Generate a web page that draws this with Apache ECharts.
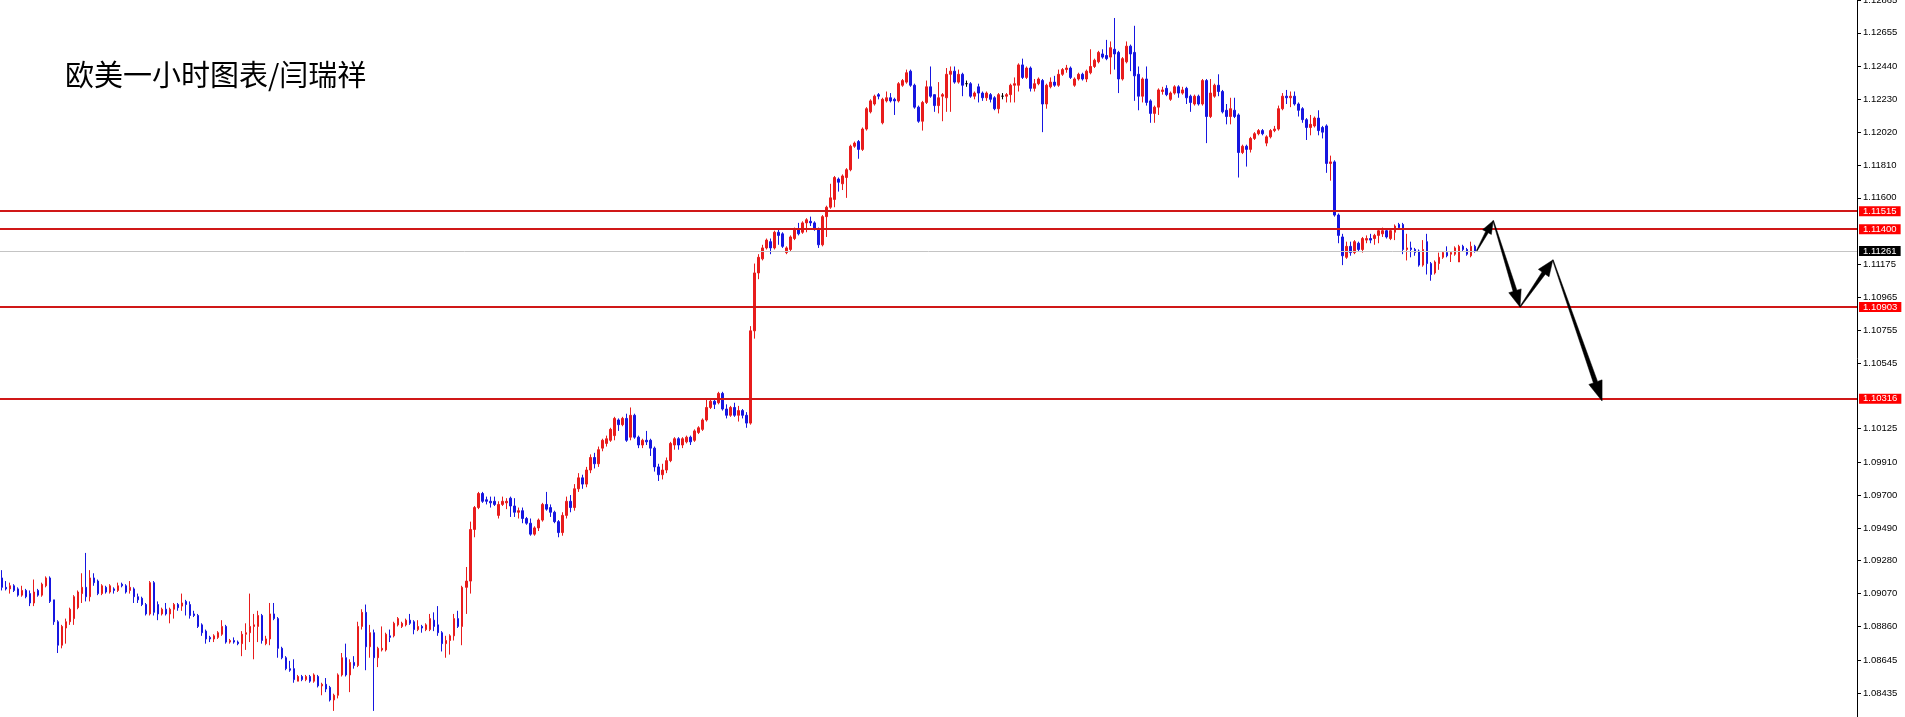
<!DOCTYPE html>
<html><head><meta charset="utf-8">
<script src="https://cdn.jsdelivr.net/npm/echarts@6/dist/echarts.min.js"></script>
<style>html,body{margin:0;padding:0;background:#fff;overflow:hidden}#c{width:1905px;height:717px}</style>
</head><body><div id="c"></div>
<script>
const titleText = '欧美一小时图表/闫瑞祥';
// [open, close, low, high] per hourly bar
const ohlc = [
[1.0917,1.0911,1.0909,1.0922],[1.0911,1.0910,1.0909,1.0915],[1.0910,1.0912,1.0907,1.0914],[1.0912,1.0909,1.0908,1.0913],
[1.0910,1.0906,1.0905,1.0911],[1.0906,1.0909,1.0905,1.0912],[1.0909,1.0905,1.0904,1.0910],[1.0907,1.0901,1.0899,1.0909],
[1.0901,1.0908,1.0899,1.0916],[1.0909,1.0906,1.0905,1.0910],[1.0906,1.0913,1.0905,1.0914],[1.0912,1.0917,1.0911,1.0918],
[1.0917,1.0902,1.0901,1.0918],[1.0903,1.0889,1.0887,1.0903],[1.0889,1.0874,1.0869,1.0890],[1.0874,1.0886,1.0872,1.0887],
[1.0885,1.0889,1.0875,1.0891],[1.0889,1.0897,1.0887,1.0898],[1.0891,1.0905,1.0887,1.0906],[1.0898,1.0908,1.0897,1.0909],
[1.0907,1.0911,1.0901,1.0920],[1.0911,1.0905,1.0902,1.0933],[1.0905,1.0917,1.0902,1.0922],[1.0917,1.0914,1.0912,1.0920],
[1.0915,1.0907,1.0906,1.0916],[1.0907,1.0912,1.0906,1.0913],[1.0911,1.0908,1.0907,1.0912],[1.0908,1.0912,1.0907,1.0913],
[1.0910,1.0909,1.0907,1.0911],[1.0909,1.0912,1.0908,1.0914],[1.0913,1.0912,1.0911,1.0914],[1.0912,1.0908,1.0907,1.0913],
[1.0909,1.0911,1.0907,1.0915],[1.0910,1.0905,1.0901,1.0911],[1.0905,1.0903,1.0901,1.0907],[1.0904,1.0900,1.0899,1.0905],
[1.0900,1.0894,1.0893,1.0901],[1.0894,1.0914,1.0893,1.0915],[1.0914,1.0895,1.0893,1.0915],[1.0900,1.0894,1.0890,1.0902],
[1.0894,1.0897,1.0893,1.0898],[1.0897,1.0894,1.0893,1.0901],[1.0894,1.0897,1.0888,1.0898],[1.0897,1.0900,1.0891,1.0901],
[1.0900,1.0898,1.0896,1.0901],[1.0899,1.0901,1.0896,1.0907],[1.0902,1.0900,1.0893,1.0903],
[1.0900,1.0893,1.0891,1.0902],[1.0894,1.0893,1.0892,1.0896],[1.0893,1.0886,1.0885,1.0894],[1.0887,1.0882,1.0880,1.0888],
[1.0883,1.0878,1.0875,1.0884],[1.0879,1.0878,1.0876,1.0880],[1.0878,1.0880,1.0876,1.0881],[1.0879,1.0882,1.0878,1.0883],
[1.0881,1.0886,1.0880,1.0890],[1.0886,1.0876,1.0875,1.0887],[1.0876,1.0877,1.0875,1.0878],[1.0877,1.0876,1.0875,1.0879],
[1.0876,1.0875,1.0874,1.0877],[1.0875,1.0881,1.0867,1.0883],[1.0881,1.0882,1.0871,1.0888],[1.0882,1.0886,1.0876,1.0907],
[1.0886,1.0887,1.0865,1.0894],[1.0886,1.0893,1.0876,1.0896],[1.0893,1.0877,1.0875,1.0894],[1.0875,1.0878,1.0874,1.0880],
[1.0878,1.0894,1.0874,1.0901],[1.0894,1.0891,1.0890,1.0901],[1.0891,1.0872,1.0866,1.0892],[1.0872,1.0866,1.0865,1.0873],
[1.0866,1.0859,1.0858,1.0867],[1.0859,1.0858,1.0857,1.0864],[1.0859,1.0852,1.0850,1.0865],[1.0851,1.0854,1.0851,1.0855],
[1.0854,1.0852,1.0851,1.0855],[1.0852,1.0854,1.0851,1.0855],[1.0854,1.0851,1.0850,1.0855],[1.0851,1.0855,1.0850,1.0856],
[1.0854,1.0848,1.0847,1.0855],[1.0848,1.0849,1.0842,1.0850],[1.0849,1.0846,1.0844,1.0853],[1.0847,1.0839,1.0838,1.0848],
[1.0839,1.0842,1.0832,1.0843],[1.0842,1.0855,1.0840,1.0856],[1.0855,1.0866,1.0854,1.0869],[1.0866,1.0855,1.0854,1.0875],
[1.0855,1.0863,1.0844,1.0865],[1.0863,1.0861,1.0859,1.0867],[1.0861,1.0886,1.0860,1.0889],[1.0886,1.0895,1.0884,1.0897],
[1.0895,1.0873,1.0858,1.0900],[1.0873,1.0882,1.0866,1.0887],[1.0882,1.0866,1.0832,1.0884],
[1.0866,1.0872,1.0860,1.0873],[1.0871,1.0872,1.0870,1.0886],[1.0871,1.0881,1.0870,1.0882],[1.0880,1.0879,1.0876,1.0884],
[1.0880,1.0888,1.0879,1.0889],[1.0887,1.0891,1.0886,1.0892],[1.0886,1.0888,1.0885,1.0889],[1.0887,1.0890,1.0886,1.0891],
[1.0890,1.0888,1.0887,1.0894],[1.0889,1.0884,1.0881,1.0890],[1.0884,1.0886,1.0883,1.0890],[1.0886,1.0885,1.0882,1.0887],
[1.0884,1.0887,1.0883,1.0888],[1.0884,1.0891,1.0883,1.0894],[1.0890,1.0886,1.0883,1.0895],[1.0887,1.0882,1.0880,1.0899],
[1.0882,1.0875,1.0870,1.0883],[1.0875,1.0877,1.0866,1.0880],[1.0877,1.0880,1.0868,1.0881],[1.0880,1.0891,1.0877,1.0894],
[1.0891,1.0886,1.0885,1.0896],[1.0886,1.0911,1.0874,1.0912],[1.0911,1.0915,1.0894,1.0924],[1.0915,1.0948,1.0907,1.0953],
[1.0948,1.0962,1.0943,1.0963],[1.0962,1.0971,1.0961,1.0972],[1.0971,1.0966,1.0965,1.0972],[1.0967,1.0966,1.0964,1.0969],
[1.0966,1.0965,1.0962,1.0969],[1.0966,1.0964,1.0963,1.0969],[1.0957,1.0964,1.0955,1.0966],[1.0964,1.0966,1.0963,1.0969],
[1.0965,1.0966,1.0961,1.0968],[1.0968,1.0963,1.0956,1.0969],[1.0963,1.0959,1.0956,1.0968],[1.0959,1.0960,1.0955,1.0962],
[1.0960,1.0955,1.0952,1.0962],[1.0955,1.0952,1.0951,1.0956],[1.0952,1.0945,1.0944,1.0955],[1.0945,1.0949,1.0944,1.0950],
[1.0949,1.0954,1.0947,1.0955],[1.0954,1.0964,1.0953,1.0965],[1.0964,1.0961,1.0960,1.0972],[1.0962,1.0959,1.0956,1.0964],
[1.0959,1.0953,1.0952,1.0960],[1.0953,1.0946,1.0943,1.0954],
[1.0946,1.0957,1.0944,1.0959],[1.0957,1.0966,1.0955,1.0969],[1.0966,1.0962,1.0959,1.0970],[1.0962,1.0974,1.0960,1.0977],
[1.0974,1.0981,1.0972,1.0984],[1.0981,1.0977,1.0974,1.0983],[1.0977,1.0986,1.0975,1.0988],[1.0986,1.0994,1.0984,1.0996],
[1.0994,1.0990,1.0987,1.0997],[1.0990,1.0999,1.0988,1.1001],
[1.1000,1.1005,1.0998,1.1006],[1.1003,1.1006,1.1001,1.1008],[1.1005,1.1012,1.1004,1.1013],[1.1008,1.1019,1.1005,1.1020],
[1.1018,1.1015,1.1011,1.1019],[1.1015,1.1019,1.1014,1.1020],[1.1019,1.1005,1.1004,1.1022],[1.1007,1.1021,1.1005,1.1026],
[1.1021,1.1007,1.1006,1.1022],[1.1007,1.1002,1.1000,1.1008],[1.1002,1.1005,1.1000,1.1006],[1.1005,1.1004,1.1002,1.1011],
[1.1005,1.1000,1.0995,1.1006],[1.1000,1.0988,1.0985,1.1001],[1.0988,1.0983,1.0979,1.0990],[1.0983,1.0986,1.0980,1.0990],
[1.0986,1.0992,1.0984,1.0994],[1.0992,1.1003,1.0991,1.1004],[1.1002,1.1006,1.0999,1.1007],[1.1006,1.1002,1.0999,1.1007],
[1.1002,1.1006,1.1000,1.1007],[1.1004,1.1007,1.1003,1.1008],[1.1007,1.1004,1.1002,1.1008],[1.1005,1.1011,1.1004,1.1012],
[1.1010,1.1013,1.1009,1.1014],[1.1012,1.1018,1.1011,1.1019],[1.1018,1.1026,1.1017,1.1031],[1.1026,1.1030,1.1025,1.1031],
[1.1030,1.1028,1.1025,1.1031],[1.1029,1.1035,1.1028,1.1036],[1.1035,1.1025,1.1024,1.1036],[1.1025,1.1021,1.1019,1.1028],
[1.1021,1.1026,1.1020,1.1027],[1.1026,1.1021,1.1020,1.1029],[1.1021,1.1024,1.1017,1.1027],[1.1024,1.1021,1.1019,1.1025],
[1.1021,1.1016,1.1013,1.1023],[1.1016,1.1075,1.1015,1.1078],[1.1075,1.1112,1.1070,1.1118],[1.1112,1.1122,1.1108,1.1124],
[1.1121,1.1128,1.1120,1.1130],[1.1128,1.1133,1.1127,1.1134],[1.1132,1.1128,1.1124,1.1134],[1.1128,1.1138,1.1127,1.1139],
[1.1138,1.1136,1.1130,1.1140],[1.1137,1.1129,1.1128,1.1138],[1.1125,1.1128,1.1124,1.1129],[1.1127,1.1135,1.1126,1.1136],
[1.1134,1.1140,1.1133,1.1141],[1.1140,1.1137,1.1136,1.1144],[1.1138,1.1144,1.1137,1.1145],[1.1144,1.1146,1.1138,1.1147],
[1.1145,1.1144,1.1142,1.1148],[1.1144,1.1140,1.1139,1.1145],[1.1140,1.1130,1.1128,1.1141],[1.1130,1.1148,1.1129,1.1149],
[1.1148,1.1154,1.1135,1.1155],[1.1154,1.1160,1.1153,1.1169],[1.1159,1.1173,1.1154,1.1174],[1.1172,1.1170,1.1164,1.1173],
[1.1169,1.1174,1.1165,1.1175],[1.1173,1.1178,1.1160,1.1179],[1.1178,1.1193,1.1177,1.1194],[1.1193,1.1195,1.1192,1.1196],
[1.1196,1.1191,1.1185,1.1197],[1.1191,1.1204,1.1190,1.1205],[1.1204,1.1217,1.1203,1.1218],[1.1215,1.1222,1.1214,1.1223],
[1.1220,1.1225,1.1219,1.1226],[1.1226,1.1225,1.1223,1.1227],[1.1208,1.1223,1.1207,1.1224],[1.1222,1.1224,1.1221,1.1228],
[1.1224,1.1222,1.1221,1.1227],[1.1223,1.1222,1.1213,1.1224],[1.1222,1.1233,1.1221,1.1234],[1.1232,1.1235,1.1231,1.1236],
[1.1234,1.1240,1.1233,1.1242],[1.1241,1.1232,1.1231,1.1242],[1.1232,1.1218,1.1217,1.1233],[1.1218,1.1209,1.1208,1.1219],
[1.1209,1.1221,1.1203,1.1222],[1.1221,1.1231,1.1220,1.1235],[1.1231,1.1225,1.1224,1.1244],[1.1226,1.1219,1.1215,1.1226],
[1.1219,1.1224,1.1214,1.1234],[1.1225,1.1226,1.1209,1.1227],[1.1224,1.1239,1.1215,1.1243],[1.1239,1.1241,1.1215,1.1244],
[1.1241,1.1234,1.1233,1.1244],[1.1234,1.1239,1.1233,1.1242],[1.1239,1.1232,1.1225,1.1240],[1.1233,1.1233,1.1231,1.1235],
[1.1233,1.1225,1.1224,1.1234],[1.1225,1.1227,1.1223,1.1228],[1.1231,1.1227,1.1221,1.1233],[1.1227,1.1224,1.1222,1.1228],
[1.1224,1.1227,1.1222,1.1228],[1.1226,1.1223,1.1221,1.1227],[1.1224,1.1217,1.1216,1.1225],[1.1217,1.1226,1.1214,1.1227],
[1.1225,1.1225,1.1223,1.1227],[1.1225,1.1226,1.1221,1.1227],[1.1226,1.1232,1.1221,1.1233],[1.1232,1.1233,1.1221,1.1237],
[1.1232,1.1245,1.1228,1.1246],[1.1245,1.1237,1.1236,1.1249],[1.1237,1.1243,1.1236,1.1244],[1.1243,1.1230,1.1228,1.1244],
[1.1230,1.1233,1.1228,1.1236],[1.1233,1.1236,1.1232,1.1237],[1.1235,1.1220,1.1202,1.1236],[1.1220,1.1232,1.1217,1.1233],
[1.1231,1.1234,1.1230,1.1237],[1.1234,1.1232,1.1231,1.1238],[1.1232,1.1239,1.1231,1.1242],[1.1239,1.1242,1.1238,1.1243],
[1.1242,1.1243,1.1240,1.1245],[1.1243,1.1237,1.1236,1.1244],[1.1232,1.1236,1.1231,1.1237],[1.1236,1.1239,1.1235,1.1240],
[1.1239,1.1236,1.1235,1.1240],[1.1236,1.1241,1.1234,1.1242],[1.1240,1.1244,1.1239,1.1255],[1.1244,1.1248,1.1243,1.1249],
[1.1247,1.1253,1.1246,1.1254],[1.1252,1.1250,1.1249,1.1255],[1.1251,1.1249,1.1248,1.1261],[1.1250,1.1256,1.1239,1.1260],
[1.1255,1.1252,1.1242,1.1275],[1.1253,1.1236,1.1227,1.1254],[1.1236,1.1249,1.1235,1.1250],[1.1247,1.1257,1.1246,1.1260],
[1.1257,1.1252,1.1241,1.1258],[1.1253,1.1238,1.1222,1.1270],[1.1239,1.1225,1.1216,1.1244],[1.1225,1.1236,1.1221,1.1237],
[1.1236,1.1221,1.1219,1.1244],[1.1222,1.1214,1.1208,1.1223],[1.1214,1.1218,1.1208,1.1219],[1.1218,1.1229,1.1213,1.1230],
[1.1228,1.1229,1.1226,1.1231],[1.1230,1.1226,1.1225,1.1232],[1.1223,1.1227,1.1222,1.1228],[1.1227,1.1231,1.1226,1.1232],
[1.1231,1.1227,1.1224,1.1232],[1.1227,1.1229,1.1226,1.1231],[1.1230,1.1224,1.1220,1.1231],[1.1225,1.1221,1.1215,1.1226],
[1.1220,1.1225,1.1219,1.1226],[1.1225,1.1220,1.1219,1.1226],[1.1220,1.1235,1.1219,1.1236],[1.1235,1.1212,1.1195,1.1236],
[1.1212,1.1227,1.1211,1.1236],[1.1225,1.1232,1.1224,1.1233],[1.1232,1.1228,1.1225,1.1239],[1.1228,1.1215,1.1214,1.1229],
[1.1216,1.1212,1.1207,1.1220],[1.1212,1.1217,1.1207,1.1224],[1.1216,1.1212,1.1211,1.1224],[1.1213,1.1189,1.1173,1.1214],
[1.1189,1.1193,1.1188,1.1194],[1.1193,1.1191,1.1180,1.1194],[1.1191,1.1198,1.1189,1.1199],[1.1198,1.1201,1.1197,1.1202],
[1.1201,1.1203,1.1200,1.1204],[1.1203,1.1201,1.1200,1.1204],[1.1195,1.1199,1.1193,1.1200],[1.1199,1.1203,1.1198,1.1204],
[1.1203,1.1204,1.1202,1.1206],[1.1204,1.1217,1.1203,1.1219],[1.1217,1.1225,1.1216,1.1227],[1.1225,1.1224,1.1220,1.1229],
[1.1224,1.1225,1.1218,1.1228],[1.1225,1.1220,1.1219,1.1228],[1.1220,1.1216,1.1212,1.1221],[1.1217,1.1210,1.1208,1.1218],
[1.1210,1.1205,1.1197,1.1211],[1.1205,1.1207,1.1200,1.1213],[1.1206,1.1211,1.1205,1.1212],[1.1211,1.1203,1.1200,1.1216],
[1.1205,1.1202,1.1198,1.1206],[1.1206,1.1182,1.1176,1.1207],[1.1182,1.1183,1.1171,1.1187],[1.1183,1.1149,1.1148,1.1184],
[1.1149,1.1136,1.1131,1.1150],[1.1135,1.1123,1.1117,1.1137],[1.1122,1.1129,1.1121,1.1132],[1.1129,1.1125,1.1123,1.1132],
[1.1125,1.1132,1.1124,1.1133],[1.1131,1.1127,1.1126,1.1132],[1.1127,1.1134,1.1125,1.1135],[1.1133,1.1134,1.1131,1.1136],
[1.1134,1.1133,1.1131,1.1137],[1.1134,1.1136,1.1130,1.1137],[1.1136,1.1139,1.1131,1.1140],[1.1137,1.1139,1.1135,1.1141],
[1.1139,1.1135,1.1134,1.1140],[1.1134,1.1139,1.1133,1.1140],[1.1138,1.1142,1.1133,1.1143],[1.1143,1.1141,1.1140,1.1144],
[1.1143,1.1127,1.1124,1.1144],[1.1127,1.1128,1.1120,1.1137],[1.1128,1.1127,1.1122,1.1132],[1.1127,1.1125,1.1123,1.1128],
[1.1126,1.1117,1.1116,1.1127],[1.1117,1.1127,1.1116,1.1133],[1.1132,1.1118,1.1111,1.1137],[1.1118,1.1111,1.1107,1.1119],
[1.1112,1.1119,1.1111,1.1120],[1.1118,1.1122,1.1114,1.1125],[1.1122,1.1125,1.1121,1.1126],[1.1125,1.1123,1.1122,1.1129],
[1.1124,1.1125,1.1119,1.1126],[1.1124,1.1128,1.1123,1.1129],[1.1119,1.1129,1.1119,1.1130],[1.1129,1.1127,1.1126,1.1130],
[1.1127,1.1124,1.1123,1.1128],[1.1123,1.1129,1.1122,1.1132],[1.1129,1.1126,1.1125,1.1130]
];
const slotCount = 464;               // bar slots across the plot (incl. empty space on the right)
const priceMax = 1.12865;
const priceMin = 1.08281;
const tickLabels = [1.12865,1.12655,1.12440,1.12230,1.12020,1.11810,1.11600,1.11175,1.10965,1.10755,1.10545,
                    1.10125,1.09910,1.09700,1.09490,1.09280,1.09070,1.08860,1.08645,1.08435];
const levels = [1.11515, 1.11400, 1.10903, 1.10316];
const lastPrice = 1.11261;
// projected path: [bar index, price]
const arrowPath = [[368.5,1.11262],[372.6,1.11454],[379.3,1.10902],[387.5,1.11203],[399.8,1.10301]];

const categories = [];
for (let i = 0; i < slotCount; i++) categories.push(String(i));

const chart = echarts.init(document.getElementById('c'), null, {renderer:'canvas'});
const UP = '#e81c1c', DOWN = '#1616e0', LINE_RED = '#d01818';

chart.setOption({
  animation: false,
  backgroundColor: '#ffffff',
  title: {
    text: titleText, left: 60, top: 55,
    textStyle: {fontSize: 29, fontWeight: 'normal', color: '#000', fontFamily: 'Noto Sans CJK SC'}
  },
  grid: {left: 0, right: 48, top: 0, bottom: 0, containLabel: false, outerBoundsMode: 'none'},
  xAxis: {
    type: 'category', data: categories, boundaryGap: true,
    axisLine: {show: false}, axisTick: {show: false}, axisLabel: {show: false}, splitLine: {show: false}
  },
  yAxis: {
    type: 'value', position: 'right', min: priceMin, max: priceMax,
    splitLine: {show: false},
    axisLine: {show: true, lineStyle: {color: '#000', width: 1}},
    axisTick: {show: true, length: 4, customValues: tickLabels, lineStyle: {color: '#000'}},
    axisLabel: {customValues: tickLabels, formatter: v => v.toFixed(5), color: '#000',
                fontSize: 9.5, fontFamily: 'Liberation Sans', margin: 6,
                verticalAlignMaxLabel: 'middle', verticalAlignMinLabel: 'middle'}
  },
  series: [{
    type: 'candlestick', data: ohlc, barWidth: 2, clip: false,
    itemStyle: {color: UP, color0: DOWN, borderColor: UP, borderColor0: DOWN, borderColorDoji: '#000', borderWidth: 1},
    markLine: {
      silent: true, animation: false, symbol: ['none','none'], precision: 5,
      label: {show: true, position: 'end', distance: 2, formatter: p => Number(p.value).toFixed(5),
              color: '#fff', fontSize: 9.5, fontFamily: 'Liberation Sans', padding: [1,4,0,4], lineHeight: 9},
      data: levels.map(v => ({yAxis: v, lineStyle: {color: LINE_RED, width: 2, type: 'solid'},
                               label: {backgroundColor: '#ff0000'}}))
        .concat([{yAxis: lastPrice, lineStyle: {color: '#c4c4c4', width: 1, type: 'solid'},
                  label: {backgroundColor: '#000'}}])
    }
  }]
});

// projected arrows
function toPix(pt) {
  const a = chart.convertToPixel({gridIndex: 0}, [0, pt[1]]);
  const b = chart.convertToPixel({gridIndex: 0}, [100, pt[1]]);
  return [a[0] + (b[0] - a[0]) * pt[0] / 100, a[1]];
}
function arrowPoly(S, E, headLen, headHalf, shaftHalf) {
  const dx = E[0]-S[0], dy = E[1]-S[1], L = Math.hypot(dx, dy);
  const ux = dx/L, uy = dy/L, nx = -uy, ny = ux;
  const Bx = E[0]-ux*headLen, By = E[1]-uy*headLen;
  return [
    [S[0]+nx*0.4, S[1]+ny*0.4],
    [Bx+nx*shaftHalf, By+ny*shaftHalf],
    [Bx+nx*headHalf, By+ny*headHalf],
    [E[0], E[1]],
    [Bx-nx*headHalf, By-ny*headHalf],
    [Bx-nx*shaftHalf, By-ny*shaftHalf],
    [S[0]-nx*0.4, S[1]-ny*0.4]
  ];
}
const heads = [[13,5,1.5],[17,6.5,2],[16,6.5,2],[20,7,2.2]];
const graphics = [];
for (let k = 0; k < arrowPath.length - 1; k++) {
  const S = toPix(arrowPath[k]), E = toPix(arrowPath[k+1]);
  const h = heads[k];
  graphics.push({type: 'polygon', z: 100, shape: {points: arrowPoly(S, E, h[0], h[1], h[2])},
                 style: {fill: '#000', stroke: '#000', lineWidth: 0.5}});
}
chart.setOption({graphic: graphics});
</script>
</body></html>
